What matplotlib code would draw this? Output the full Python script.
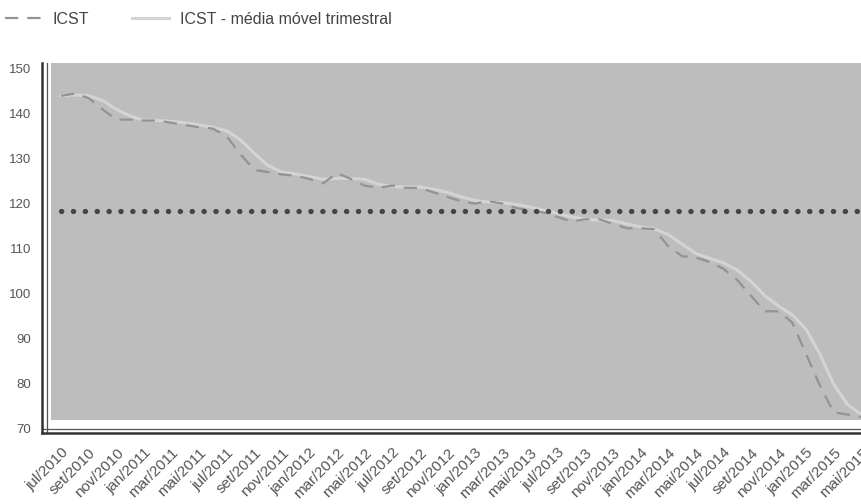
import matplotlib.pyplot as plt
from matplotlib.patches import Rectangle

# monthly labels, jul/2010 .. mai/2015
months = ['jan', 'fev', 'mar', 'abr', 'mai', 'jun',
          'jul', 'ago', 'set', 'out', 'nov', 'dez']
periods = ['%s/%d' % (months[(6 + i) % 12], 2010 + (6 + i) // 12)
           for i in range(59)]

# ICST
icst = [144.0, 144.5, 143.5, 141.0, 138.7, 138.7, 138.5, 138.5, 138.0, 137.5,
        137.0, 136.7, 135.0, 131.0, 127.5, 127.0, 126.5, 126.2, 125.5, 124.5,
        126.8, 125.5, 124.0, 123.5, 124.0, 123.5, 123.5, 122.5, 121.5, 120.5,
        120.0, 120.5, 120.0, 119.0, 118.5, 118.0, 117.0, 116.0, 116.5, 116.5,
        115.5, 114.5, 114.5, 114.3, 110.5, 108.3, 108.0, 107.0, 105.5, 103.0,
        99.5, 96.0, 96.0, 93.5, 86.5, 79.5, 73.5, 73.0, 72.5]

# média móvel trimestral
icst_mm = [144.0, 144.2, 144.0, 143.0, 141.0, 139.5, 138.6, 138.5, 138.3, 138.0,
           137.5, 137.0, 136.2, 134.2, 131.2, 128.5, 127.0, 126.6, 126.0, 125.4,
           125.6, 125.6, 125.4, 124.3, 123.8, 123.7, 123.7, 123.2, 122.5, 121.5,
           120.7, 120.3, 120.2, 119.8, 119.2, 118.5, 117.8, 117.0, 116.5, 116.3,
           116.2, 115.5, 114.8, 114.4, 113.1, 111.0, 108.9, 107.8, 106.8, 105.2,
           102.7, 99.5, 97.2, 95.2, 92.0, 86.5, 79.8, 75.3, 73.0]

# linha de referência
ref_level = 118.4

yticks = [70, 80, 90, 100, 110, 120, 130, 140, 150]

plt.rcParams['font.family'] = ['Liberation Sans', 'DejaVu Sans']

fig = plt.figure(figsize=(8.61, 5.04), dpi=100)
ax = fig.add_axes([0.0488, 0.1409, 0.9675, 0.734])
ax.set_facecolor('white')

x = list(range(len(periods)))

ax.add_patch(Rectangle((0.011, 0.035), 1.0, 0.965, transform=ax.transAxes,
                       facecolor='#bdbdbd', edgecolor='none', zorder=0))

ax.plot(x, [ref_level] * len(x), color='#454545', lw=3.8,
        linestyle=(0, (0.05, 2.2)), dash_capstyle='round', zorder=3)
ax.plot(x, icst_mm, color='#d4d4d4', lw=2.2, label='ICST - média móvel trimestral',
        zorder=2)
ax.plot(x, icst, color='#939393', lw=1.6, linestyle=(0, (6, 4)), label='ICST',
        zorder=2)

ax.set_xlim(-1.38, 59.0)
ax.set_ylim(68.9, 151.3)

for side in ['top', 'right']:
    ax.spines[side].set_visible(False)
for side in ['left', 'bottom']:
    ax.spines[side].set_color('#333333')
    ax.spines[side].set_linewidth(1.8)
ax.plot([0.006, 0.006], [0.0, 1.0], transform=ax.transAxes, color='#555555',
        lw=0.9, clip_on=False)
ax.plot([0.0, 1.0], [0.012, 0.012], transform=ax.transAxes, color='#555555',
        lw=0.9, clip_on=False)

ax.set_yticks(yticks)
ax.set_yticklabels([str(v) for v in yticks], fontsize=9.5, color='#555555')
ax.set_xticks(x[::2])
ax.set_xticklabels(periods[::2], rotation=45, ha='right', rotation_mode='anchor',
                   fontsize=11, color='#555555')
ax.tick_params(axis='both', length=0)
ax.tick_params(axis='y', pad=8)
ax.tick_params(axis='x', pad=9)

handles, labels = ax.get_legend_handles_labels()
fig.legend(handles[::-1], labels[::-1], loc='upper left',
           bbox_to_anchor=(-0.004, 0.993), ncol=2, frameon=False, fontsize=11.5,
           borderpad=0.3, borderaxespad=0.2, handlelength=2.3,
           handletextpad=0.7, columnspacing=2.7, labelcolor='#444444')

fig.savefig('out.png', dpi=100, facecolor='white')
